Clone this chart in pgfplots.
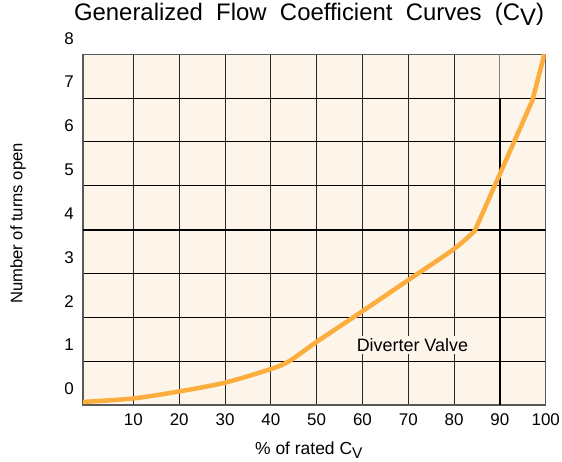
\documentclass[border=0pt]{standalone}
\usepackage{pgfplots}
\pgfplotsset{compat=1.18}
\usepackage{fontspec}
\setmainfont{Liberation Sans}
\newfontfamily\titlefont{Liberation Sans}[WordSpace=2]
\definecolor{cream}{HTML}{FEF5EA}
\definecolor{curve}{HTML}{FBAE3E}
\begin{document}
\begin{tikzpicture}[x=1bp,y=1bp]
\useasboundingbox (0,0) rectangle (562,462);
\begin{axis}[
  at={(83bp,57bp)}, anchor=south west,
  scale only axis, width=462.7bp, height=350.7bp,
  xmin=-1, xmax=100, ymin=0, ymax=8,
  xtick={10,20,...,100}, ytick={0,1,...,8},
  major tick length=0pt,
  grid=major,
  x grid style={black!85, line width=1bp},
  y grid style={black, line width=1bp},
  axis line style={black!65, line width=1.2bp},
  axis background/.style={fill=cream},
  /pgf/number format/assume math mode=true,
  tick label style={font=\fontsize{17}{20}\selectfont},
  xticklabel style={anchor=center, yshift=-15bp},
  yticklabel style={anchor=east, inner sep=0pt, xshift=-9bp, yshift=16bp},
  title={Generalized Flow Coefficient Curves (C\raisebox{-5bp}{V})},
  title style={at={(axis description cs:0.4885,1)}, anchor=base, yshift=27.7bp, inner sep=0pt, font=\titlefont\fontsize{24}{28}\selectfont},
  xlabel={\% of rated C\raisebox{-4bp}{\fontsize{15.5}{18}\selectfont V}},
  xlabel style={at={(axis description cs:0.488,-0.13)}, anchor=center, font=\fontsize{17.5}{20}\selectfont},
  ylabel={Number of turns open},
  ylabel style={at={(axis description cs:-0.1405,0.5175)}, anchor=center, font=\fontsize{16.7}{20}\selectfont},
]
\draw[black, line width=2bp] (axis cs:-1,4) -- (axis cs:100,4);
\draw[black, line width=2bp] (axis cs:90,0) -- (axis cs:90,7);
\draw[black!50, line width=1bp] (axis cs:90,7) -- (axis cs:90,8);
\addplot[curve, line width=4.5bp, line cap=round, smooth, tension=0.5] coordinates {
  (-1,0.07) (10,0.15) (20,0.31) (30,0.51) (40,0.82) (44,1.0) (50,1.44)
  (60,2.14) (70,2.85) (80,3.56) (84.5,3.97)};
\addplot[curve, line width=4.5bp, line cap=round, line join=round] coordinates {
  (84.5,3.97) (97.1,6.95) (99.7,8)};
\node[fill=cream, inner sep=2bp, font=\fontsize{18}{21}\selectfont] at (axis cs:70.9,1.37) {Diverter Valve};
\end{axis}
\end{tikzpicture}
\end{document}
